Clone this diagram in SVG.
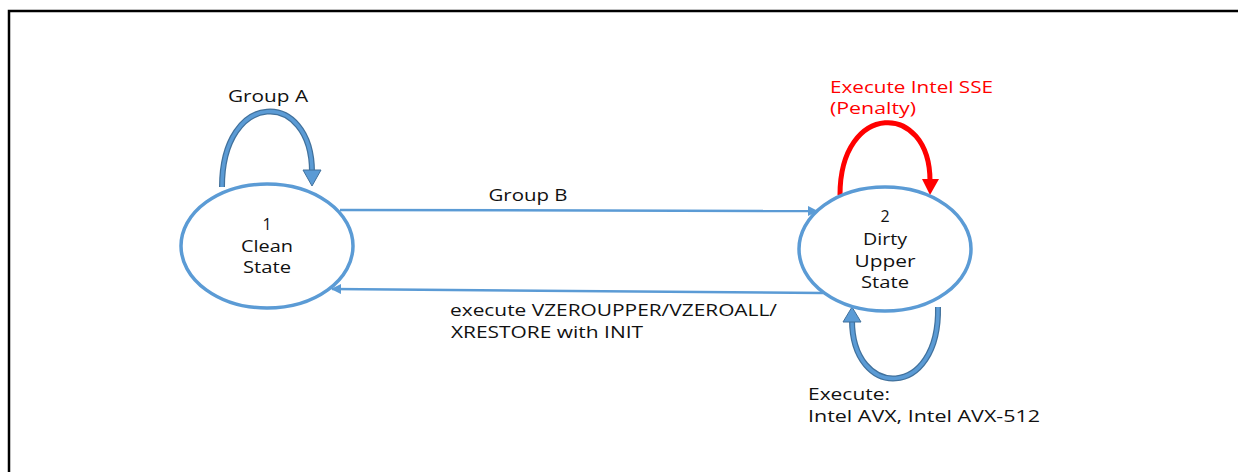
<svg xmlns="http://www.w3.org/2000/svg" width="1238" height="472" viewBox="0 0 1238 472">
<defs>
<style>
.t{font-family:"Open Sans","Liberation Sans",sans-serif;font-size:16px;fill:#111}
.red{fill:#ff0000}
.node{fill:#fff;stroke:#5b9bd5;stroke-width:3.5}
.conn{fill:none;stroke:#5b9bd5;stroke-width:2.5}
.loopo{fill:none;stroke:#41719c;stroke-width:6}
.loopi{fill:none;stroke:#5b9bd5;stroke-width:3.5}
.head{fill:#5b9bd5;stroke:#41719c;stroke-width:1}
</style>
<marker id="ah" viewBox="0 0 10 10" refX="9" refY="5" markerWidth="4" markerHeight="4" orient="auto" markerUnits="strokeWidth">
<path d="M0,0 L10,5 L0,10 z" fill="#5b9bd5"/>
</marker>
</defs>
<rect width="1238" height="472" fill="#fff"/>
<path d="M9,472 V11 H1238" fill="none" stroke="#000" stroke-width="2.5"/>
<g id="connectors">
<path class="conn" d="M340,210 L817,211" marker-end="url(#ah)"/>
<path class="conn" d="M823,293 L332,289" marker-end="url(#ah)"/>
<path class="loopo" d="M222,187 C222,89 312,89 312,172"/>
<path class="loopi" d="M222,187 C222,89 312,89 312,172"/>
<polygon class="head" points="312,186 303,170 321,170"/>
<path d="M840,195 C840,101 930,101 930,181" fill="none" stroke="#ff0000" stroke-width="5"/>
<polygon points="930,195 922,179 939,179" fill="#ff0000"/>
<path class="loopo" d="M938,307 C940,400 852,400 852,320"/>
<path class="loopi" d="M938,307 C940,400 852,400 852,320"/>
<polygon class="head" points="852,307 843,322 861,322"/>
<text class="t" x="268" y="102" text-anchor="middle" textLength="80" lengthAdjust="spacingAndGlyphs">Group A</text>
<text class="t" x="528" y="201" text-anchor="middle" textLength="79" lengthAdjust="spacingAndGlyphs">Group B</text>
<text class="t red" x="830" y="93" textLength="163" lengthAdjust="spacingAndGlyphs">Execute Intel SSE</text>
<text class="t red" x="830" y="114" textLength="86" lengthAdjust="spacingAndGlyphs">(Penalty)</text>
<text class="t" x="450" y="316" textLength="327" lengthAdjust="spacingAndGlyphs">execute VZEROUPPER/VZEROALL/</text>
<text class="t" x="451" y="338" textLength="192" lengthAdjust="spacingAndGlyphs">XRESTORE with INIT</text>
<text class="t" x="808" y="400" textLength="82" lengthAdjust="spacingAndGlyphs">Execute:</text>
<text class="t" x="808" y="422" textLength="232" lengthAdjust="spacingAndGlyphs">Intel AVX, Intel AVX-512</text>
</g>
<g id="node1">
<ellipse class="node" cx="267" cy="246" rx="86" ry="62"/>
<text class="t" x="267" y="230" text-anchor="middle">1</text>
<text class="t" x="267" y="252" text-anchor="middle" textLength="52" lengthAdjust="spacingAndGlyphs">Clean</text>
<text class="t" x="267" y="273" text-anchor="middle" textLength="48" lengthAdjust="spacingAndGlyphs">State</text>
</g>
<g id="node2">
<ellipse class="node" cx="885" cy="249" rx="86" ry="62"/>
<text class="t" x="885" y="222" text-anchor="middle">2</text>
<text class="t" x="885" y="245" text-anchor="middle" textLength="44" lengthAdjust="spacingAndGlyphs">Dirty</text>
<text class="t" x="885" y="267" text-anchor="middle" textLength="61" lengthAdjust="spacingAndGlyphs">Upper</text>
<text class="t" x="885" y="288" text-anchor="middle" textLength="48" lengthAdjust="spacingAndGlyphs">State</text>
</g>
</svg>
